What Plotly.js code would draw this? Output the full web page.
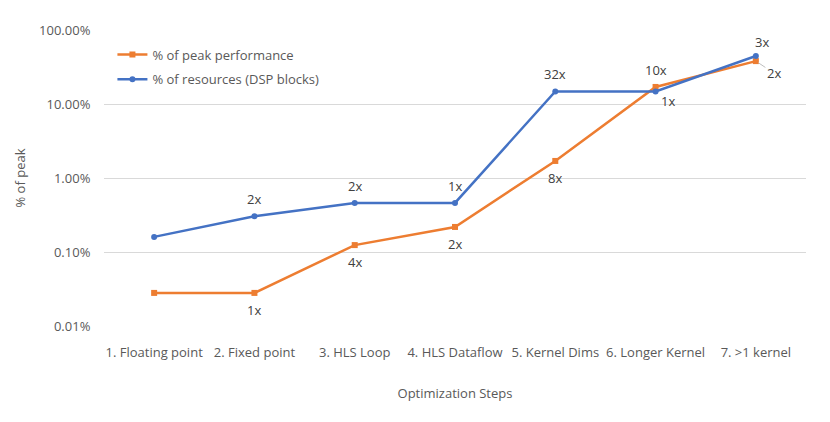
<!DOCTYPE html>
<html>
<head>
<meta charset="utf-8">
<script src="https://cdn.plot.ly/plotly-3.0.1.min.js"></script>
<style>html,body{margin:0;padding:0;background:#fff}#chart{width:830px;height:422px}</style>
</head>
<body>
<div id="chart"></div>
<script>
const categories = ["1. Floating point","2. Fixed point","3. HLS Loop","4. HLS Dataflow","5. Kernel Dims","6. Longer Kernel","7. >1 kernel"];
const peakPerf = [0.028, 0.028, 0.124, 0.218, 1.7, 17, 38];
const peakLabels = ["", "1x", "4x", "2x", "8x", "10x", "2x"];
const peakLabelPlace = ["", "below", "below", "below", "below", "above", "leader"];
const dspRes = [0.16, 0.305, 0.46, 0.46, 14.8, 14.8, 44.5];
const dspLabels = ["", "2x", "2x", "1x", "32x", "1x", "3x"];
const dspLabelPlace = ["", "above", "above", "above", "above", "belowright", "aboveright"];
const yTickVals = [0.01, 0.1, 1, 10, 100];
const yTickText = ["0.01%", "0.10%", "1.00%", "10.00%", "100.00%"];

const FONT = "'Open Sans', sans-serif";
const TXT = "#595959";
const LBL = "#404040";

const offsets = {
  above: [0, 17], below: [0, -17], leader: [15, -10],
  belowright: [12, -10], aboveright: [6, 14]
};

function makeAnnotations(ys, labels, places) {
  const out = [];
  labels.forEach((t, i) => {
    if (!t) return;
    const o = offsets[places[i]];
    const a = {
      x: categories[i], y: Math.log10(ys[i]), xref: "x", yref: "y",
      text: t, font: {family: FONT, size: 13, color: LBL}
    };
    if (places[i] === "leader") {
      Object.assign(a, {showarrow: true, ax: 18, ay: 12, arrowhead: 0,
        arrowwidth: 1, arrowcolor: "#bfbfbf", standoff: 3, startstandoff: 0});
    } else {
      Object.assign(a, {showarrow: false, xshift: o[0], yshift: o[1]});
    }
    out.push(a);
  });
  return out;
}

const traces = [
  {
    x: categories, y: peakPerf, name: "% of peak performance", type: "scatter",
    mode: "lines+markers", legendgroup: "a",
    line: {color: "#ED7D31", width: 2.5}, marker: {symbol: "square", size: 6, color: "#ED7D31"}
  },
  {
    x: categories, y: dspRes, name: "% of resources (DSP blocks)", type: "scatter",
    mode: "lines+markers", legendgroup: "b",
    line: {color: "#4472C4", width: 2.5}, marker: {symbol: "circle", size: 6, color: "#4472C4"}
  }
];
const layout = {
  width: 830, height: 422,
  margin: {l: 104, r: 24, t: 30, b: 96},
  paper_bgcolor: "#fff", plot_bgcolor: "#fff",
  font: {family: FONT, size: 13, color: TXT},
  showlegend: true,
  legend: {x: 0.012, y: 0.968, xanchor: "left", yanchor: "top", bgcolor: "rgba(0,0,0,0)",
    font: {size: 13, color: TXT}, tracegroupgap: 5, itemwidth: 30},
  xaxis: {
    type: "category", range: [-0.5, 6.5], showgrid: false, zeroline: false, showline: false,
    ticks: "outside", ticklen: 14, tickcolor: "rgba(0,0,0,0)",
    tickfont: {size: 13, color: TXT},
    title: {text: "Optimization Steps", font: {size: 13, color: TXT}, standoff: 29}
  },
  yaxis: {
    type: "log", range: [-2, 2], tickvals: yTickVals, ticktext: yTickText,
    showgrid: true, gridcolor: "#d9d9d9", gridwidth: 1, zeroline: false, showline: false,
    ticks: "outside", ticklen: 10, tickcolor: "rgba(0,0,0,0)",
    tickfont: {size: 13, color: TXT},
    title: {text: "% of peak", font: {size: 13, color: TXT}, standoff: 10}
  },
  annotations: makeAnnotations(peakPerf, peakLabels, peakLabelPlace)
    .concat(makeAnnotations(dspRes, dspLabels, dspLabelPlace))
};
Plotly.newPlot("chart", traces, layout, {displayModeBar: false, staticPlot: true});
</script>
</body>
</html>
